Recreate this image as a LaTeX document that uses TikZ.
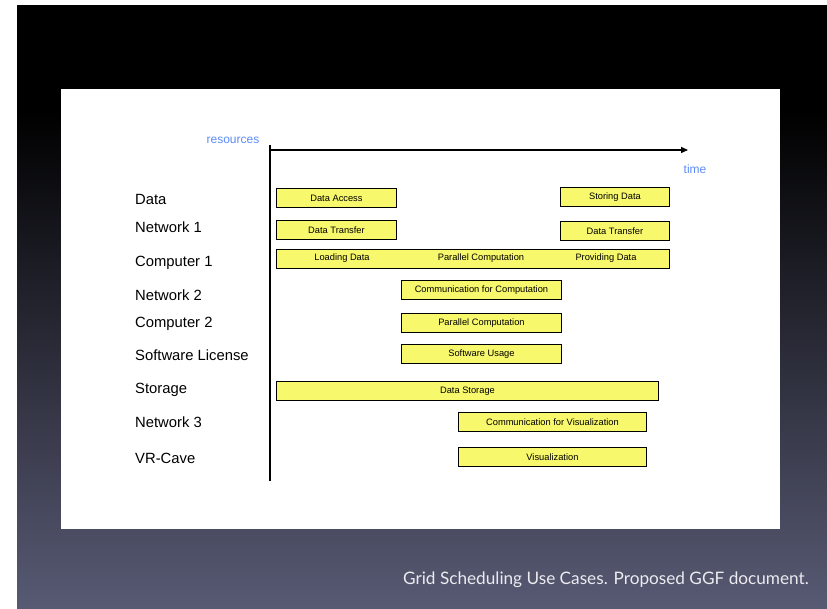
\documentclass[tikz,border=0pt]{standalone}
\usepackage{fontspec}
\setmainfont{Liberation Sans}
\newfontfamily\capfont{Lato}
\usetikzlibrary{arrows.meta}
\definecolor{baryellow}{RGB}{248,248,108}
\definecolor{resblue}{RGB}{92,140,250}
\definecolor{slate}{RGB}{88,90,116}
\definecolor{captext}{RGB}{235,235,240}
\begin{document}
\begin{tikzpicture}[x=1pt,y=-1pt,
  bar/.style={draw=black, line width=0.9pt, fill=baryellow, inner sep=0pt, anchor=north west,
    font=\fontsize{9.3}{11}\selectfont},
  bartext/.style={inner sep=0pt, font=\fontsize{9.3}{11}\selectfont},
  rowlabel/.style={anchor=west, inner sep=0pt, font=\fontsize{14.8}{17}\selectfont},
  axislabel/.style={inner sep=0pt, text=resblue, font=\fontsize{12}{14}\selectfont},
  axisline/.style={line width=1.3pt}]
\useasboundingbox (0,0) rectangle (827,609);
\fill[white] (0,0) rectangle (827,609);
% slide background
\fill[black] (17,5) rectangle (827,111);
\shade[top color=black, bottom color=slate] (17,110) rectangle (827,609);
% white panel
\fill[white] (61,89) rectangle (780,529);
% axes
\coordinate (vtop) at (270,145);
\coordinate (vbot) at (270,481);
\coordinate (hstart) at (270,150);
\coordinate (hend) at (688,150);
\draw[axisline] (vtop) -- (vbot);
\draw[axisline, -{Triangle[length=7pt,width=6pt]}] (hstart) -- (hend);
\node[axislabel] (res) at (233,140) {resources};
\node[axislabel] (time) at (695,169) {time};
% row labels
\node[rowlabel] (l1) at (135,199) {Data};
\node[rowlabel] (l2) at (135,227) {Network 1};
\node[rowlabel] (l3) at (135,263) {Computer 1};
\node[rowlabel] (l4) at (135,295) {Network 2};
\node[rowlabel] (l5) at (135,324) {Computer 2};
\node[rowlabel] (l6) at (135,355) {Software License};
\node[rowlabel] (l7) at (135,390) {Storage};
\node[rowlabel] (l8) at (135,422) {Network 3};
\node[rowlabel] (l9) at (135,458) {VR-Cave};
% bars
\node[bar, minimum width=120pt, minimum height=19pt] (b1) at (276,188) {Data Access};
\node[bar, minimum width=109pt, minimum height=19pt] (b2) at (560,187) {Storing Data};
\node[bar, minimum width=120pt, minimum height=19pt] (b3) at (276,220) {Data Transfer};
\node[bar, minimum width=109pt, minimum height=19pt] (b4) at (560,221) {Data Transfer};
\node[bar, minimum width=393pt, minimum height=19pt] (b5) at (276,249) {};
\node[bartext] (t5a) at (342,258.5) {Loading Data};
\node[bartext] (t5b) at (481,258.5) {Parallel Computation};
\node[bartext] (t5c) at (606,258.5) {Providing Data};
\node[bar, minimum width=160pt, minimum height=19pt] (b6) at (401,280) {Communication for Computation};
\node[bar, minimum width=160pt, minimum height=19pt] (b7) at (401,313) {Parallel Computation};
\node[bar, minimum width=160pt, minimum height=19pt] (b8) at (401,344) {Software Usage};
\node[bar, minimum width=382pt, minimum height=19pt] (b9) at (276,381) {Data Storage};
\node[bar, minimum width=188pt, minimum height=19pt] (b10) at (458,412) {Communication for Visualization};
\node[bar, minimum width=188pt, minimum height=19pt] (b11) at (458,447) {Visualization};
% caption
\node[anchor=base east, inner sep=0pt, text=captext, font=\capfont\fontsize{17.2}{20}\selectfont] (cap) at (809,584) {Grid Scheduling Use Cases. Proposed GGF document.};
\end{tikzpicture}
\end{document}
